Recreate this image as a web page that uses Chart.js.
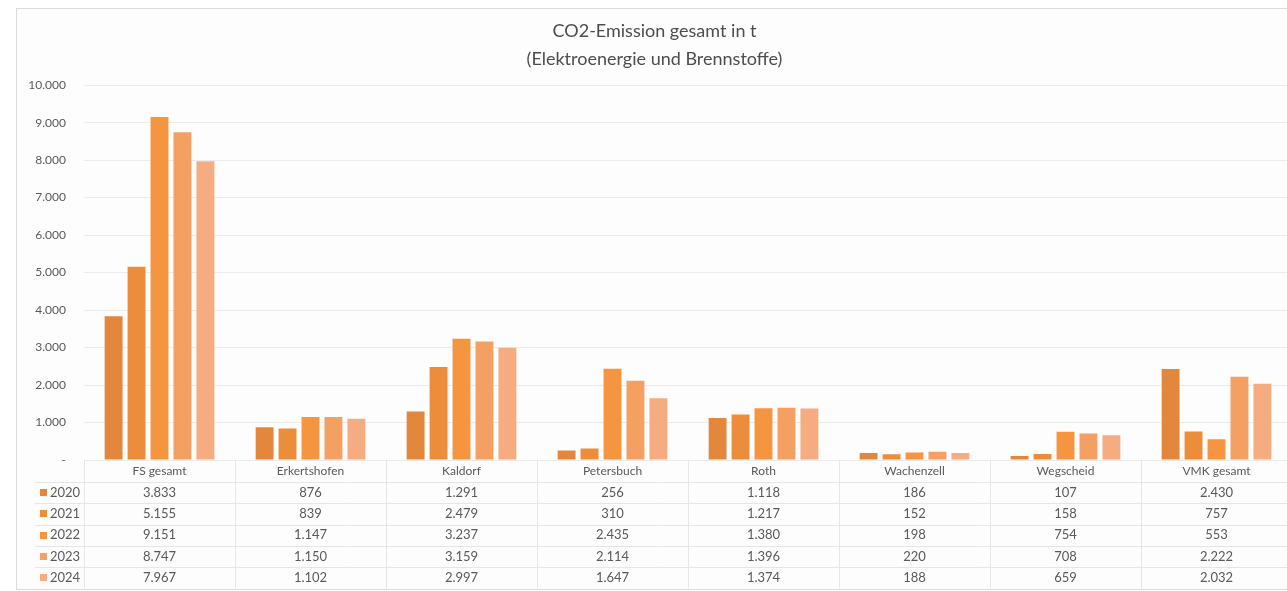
<!DOCTYPE html>
<html lang="de">
<head>
<meta charset="utf-8">
<title>CO2-Emission gesamt</title>
<script src="https://cdn.jsdelivr.net/npm/chart.js@4.4.1/dist/chart.umd.min.js"></script>
<style>
  html, body { margin: 0; padding: 0; background: #fff; overflow: hidden; }
  #frame {
    position: absolute; left: 16px; top: 8px;
    width: 1300px; height: 582px;
    border: 1px solid #dcdcdc; box-sizing: border-box;
    background: #fdfdfd;
  }
</style>
</head>
<body>
<div id="frame"><canvas id="myChart"></canvas></div>
<script>
const STANDORTE = ['FS gesamt', 'Erkertshofen', 'Kaldorf', 'Petersbuch', 'Roth', 'Wachenzell', 'Wegscheid', 'VMK gesamt'];
const JAHRE = ['2020', '2021', '2022', '2023', '2024'];
const WERTE_2020 = [3833, 876, 1291, 256, 1118, 186, 107, 2430];
const WERTE_2021 = [5155, 839, 2479, 310, 1217, 152, 158, 757];
const WERTE_2022 = [9151, 1147, 3237, 2435, 1380, 198, 754, 553];
const WERTE_2023 = [8747, 1150, 3159, 2114, 1396, 220, 708, 2222];
const WERTE_2024 = [7967, 1102, 2997, 1647, 1374, 188, 659, 2032];
const FARBEN = ['#E2873B', '#EC8D3B', '#F5953F', '#F3A062', '#F4AC80'];

const TEXT = '#595959';
const SCHRIFT = 'Lato, "Noto Sans", sans-serif';

// 1234 -> "1.234", 0 -> "-"
function zahl(v) {
    if (v === 0) return '-';
    return String(v).replace(/\B(?=(\d{3})+(?!\d))/g, '.');
}

const ALLE_WERTE = [WERTE_2020, WERTE_2021, WERTE_2022, WERTE_2023, WERTE_2024];

// Datentabelle unter der Achse, Spalten aus der x-Skala
const tabelle = {
    id: 'datentabelle',
    afterDraw(chart) {
        const ctx = chart.ctx;
        const x = chart.scales.x;
        const top = chart.chartArea.bottom;
        const kopfH = 22;
        const zeileH = 21.3;
        const spalte = (x.right - x.left) / STANDORTE.length;
        const unten = top + kopfH + JAHRE.length * zeileH;
        const links = 18;

        ctx.save();
        ctx.strokeStyle = '#e6e6e6';
        ctx.lineWidth = 1;

        // senkrechte Linien
        for (let i = 0; i <= STANDORTE.length; i++) {
            const px = Math.round(x.left + i * spalte) + 0.5;
            ctx.beginPath();
            ctx.moveTo(px, top);
            ctx.lineTo(px, unten);
            ctx.stroke();
        }
        // waagerechte Linien
        for (let r = 0; r <= JAHRE.length; r++) {
            const py = Math.round(top + kopfH + r * zeileH) + 0.5;
            ctx.beginPath();
            ctx.moveTo(links, py);
            ctx.lineTo(x.right, py);
            ctx.stroke();
        }

        ctx.fillStyle = TEXT;
        ctx.textAlign = 'center';
        ctx.textBaseline = 'middle';
        ctx.font = '12px ' + SCHRIFT;
        STANDORTE.forEach((name, i) => {
            ctx.fillText(name, x.getPixelForValue(i), top + kopfH / 2);
        });

        ctx.font = '13px ' + SCHRIFT;
        JAHRE.forEach((jahr, r) => {
            const cy = top + kopfH + r * zeileH + zeileH / 2;
            ctx.fillStyle = FARBEN[r];
            ctx.fillRect(links + 5, Math.round(cy - 3.5), 7, 7);
            ctx.fillStyle = TEXT;
            ctx.textAlign = 'left';
            ctx.fillText(jahr, links + 15, cy);
            ctx.textAlign = 'center';
            ALLE_WERTE[r].forEach((v, i) => {
                ctx.fillText(zahl(v), x.getPixelForValue(i), cy);
            });
        });
        ctx.restore();
    }
};

const CHART = document.getElementById('myChart');

const myChart = new Chart(CHART, {
    type: 'bar',
    data: {
        labels: STANDORTE,
        datasets: JAHRE.map((jahr, r) => ({
            label: jahr,
            data: ALLE_WERTE[r],
            backgroundColor: FARBEN[r],
            borderWidth: 0,
            barPercentage: 0.78,
            categoryPercentage: 0.76
        }))
    },
    options: {
        responsive: true,
        maintainAspectRatio: false,
        animation: false,
        layout: {
            padding: { left: 0, right: 23, top: 0, bottom: 129 }
        },
        plugins: {
            legend: { display: false },
            tooltip: { enabled: false },
            title: {
                display: true,
                text: ['CO2-Emission gesamt in t', '(Elektroenergie und Brennstoffe)'],
                color: '#4d4d4d',
                font: { family: SCHRIFT, size: 18, weight: 'normal', lineHeight: 1.56 },
                padding: { top: 8, bottom: 12 }
            }
        },
        scales: {
            x: {
                display: false
            },
            y: {
                min: 0,
                max: 10000,
                border: { display: false },
                grid: { color: '#ebebeb', drawTicks: false },
                ticks: {
                    stepSize: 1000,
                    padding: 18,
                    color: TEXT,
                    font: { family: SCHRIFT, size: 12 },
                    callback: (v) => zahl(v)
                },
                afterFit: (s) => { s.width = 67; }
            }
        }
    },
    plugins: [tabelle]
});
</script>
</body>
</html>
